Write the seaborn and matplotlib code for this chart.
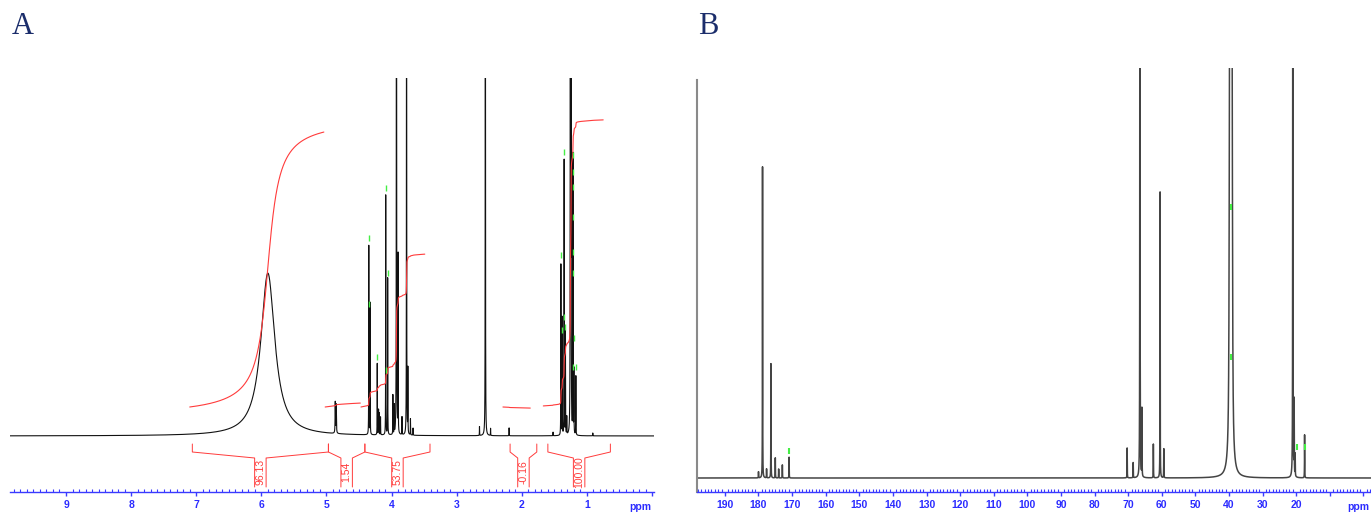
import numpy as np
import pandas as pd
import matplotlib
matplotlib.use("Agg")
import matplotlib.pyplot as plt
from matplotlib.ticker import MultipleLocator, FixedLocator
import seaborn as sns

sns.set_theme(style="white")
plt.rcParams["font.family"] = ["Liberation Sans", "DejaVu Sans"]

# ---- panel A: 1H spectrum (ppm, height relative to frame top, half width ppm)
h_shift = [5.90, 4.865, 4.850, 4.35, 4.33, 4.22, 4.20, 4.19, 4.17, 4.09, 4.06,
           3.98, 3.96, 3.925, 3.90, 3.84, 3.77, 3.75, 3.71, 3.67,
           2.65, 2.56, 2.48, 2.195, 1.52,
           1.40, 1.38, 1.35, 1.33, 1.31, 1.255, 1.245, 1.215, 1.20, 1.17, 0.91]
h_height = [0.455, 0.087, 0.080, 0.53, 0.37, 0.20, 0.07, 0.06, 0.05, 0.67, 0.44,
            0.11, 0.08, 4.0, 0.50, 0.05, 2.4, 0.18, 0.045, 0.02,
            0.025, 3.0, 0.02, 0.022, 0.01,
            0.48, 0.33, 0.77, 0.29, 0.05, 3.0, 3.0, 0.78, 0.18, 0.165, 0.008]
h_width = [0.13, 0.003, 0.003] + [0.0015] * 33

# integral curves (start ppm, end ppm, start level, end level)
int_start = [7.10, 5.02, 4.47, 2.29, 1.67]
int_end = [5.04, 4.48, 3.49, 1.87, 0.75]
int_low = [0.081, 0.081, 0.081, 0.081, 0.084]
int_high = [0.849, 0.092, 0.508, 0.078, 0.883]

# integration brackets and values
br_left = [7.06, 4.97, 4.41, 2.18, 1.60]
br_right = [4.97, 4.41, 3.41, 1.77, 0.64]
br_values = ["96.13", "1.54", "53.75", "-0.16", "100.00"]

# peak-pick marks
hpick_ppm = [4.35, 4.34, 4.22, 4.08, 4.05, 4.09, 1.40, 1.35, 1.35, 1.39, 1.33,
             1.21, 1.21, 1.21, 1.21, 1.21, 1.21, 1.20, 1.22, 1.17]
hpick_y = [0.553, 0.369, 0.22, 0.693, 0.455, 0.184, 0.506, 0.793, 0.332, 0.296, 0.304,
           0.785, 0.737, 0.696, 0.612, 0.514, 0.455, 0.274, 0.193, 0.193]

# ---- panel B: 13C spectrum
c_shift = [180.0, 178.8, 177.6, 176.3, 175.0, 174.0, 172.9, 170.9,
           70.3, 68.5, 66.5, 65.9, 62.5, 60.5, 59.4,
           39.9, 39.75, 39.6, 39.45, 39.3, 39.15, 39.0,
           21.0, 20.6, 20.3, 17.5]
c_height = [0.015, 0.759, 0.022, 0.28, 0.049, 0.022, 0.032, 0.051,
            0.073, 0.037, 3.0, 0.166, 0.083, 0.70, 0.071,
            0.25, 0.8, 1.6, 2.0, 1.6, 0.8, 0.25,
            3.0, 0.18, 0.054, 0.105]
c_width = [0.03] * 15 + [0.1] * 7 + [0.03] * 4
cpick_ppm = [39.4, 39.4, 19.8, 17.4, 170.9]
cpick_y = [0.661, 0.295, 0.076, 0.076, 0.066]

W, H = 1371, 513
BLUE = "#3a3aff"
RED = "#ff3b3b"
GREEN = "#44ee44"


def spectrum(grid, centres, heights, widths):
    y = np.zeros_like(grid)
    for c, h, w in zip(centres, heights, widths):
        y += h * w ** 2 / ((grid - c) ** 2 + w ** 2)
    return y


def style_axis(ax, major, minor, blank):
    for s in ["top", "right", "left"]:
        ax.spines[s].set_visible(False)
    ax.spines["bottom"].set_color(BLUE)
    ax.spines["bottom"].set_linewidth(1.0)
    ax.set_yticks([])
    ax.xaxis.set_major_locator(FixedLocator(major))
    ax.xaxis.set_minor_locator(MultipleLocator(minor))
    ax.set_xticklabels(["" if t in blank else f"{t:g}" for t in major])
    ax.tick_params(axis="x", which="major", direction="out", length=3, width=1,
                   color=BLUE, labelcolor="#2b2bff", labelsize=7.5, pad=2.5, bottom=True)
    ax.tick_params(axis="x", which="minor", direction="in", length=2, width=0.8,
                   color=BLUE, bottom=True)
    for lab in ax.get_xticklabels():
        lab.set_fontweight("bold")
    ax.set_xlabel("")
    ax.set_ylabel("")
    ax.set_facecolor("white")


fig = plt.figure(figsize=(W / 100, H / 100), dpi=100)
axA = fig.add_axes([10 / W, 1 - 492 / H, 644 / W, (492 - 78) / H])
axB = fig.add_axes([697 / W, 1 - 492 / H, 674 / W, (492 - 68) / H])

# ---- A
ppmA = np.linspace(9.86, -0.03, 40000)
specA = spectrum(ppmA, h_shift, h_height, h_width)
sns.lineplot(x=ppmA, y=specA, ax=axA, color="#111111", lw=0.8,
             sort=False, estimator=None)

for a, b, lo, hi in zip(int_start, int_end, int_low, int_high):
    m = (ppmA <= a) & (ppmA >= b)
    cum = np.cumsum(specA[m])
    cum = (cum - cum[0]) / (cum[-1] - cum[0])
    sns.lineplot(x=ppmA[m], y=lo + (hi - lo) * cum, ax=axA, color=RED, lw=0.8,
                 sort=False, estimator=None)

u = 1 / 358
for l, r, v in zip(br_left, br_right, br_values):
    c = (l + r) / 2
    g = 0.088
    y_top, y_knee, y_mid, y_bot = -8 * u, -16 * u, -22 * u, -51 * u
    axA.plot([l, l, c + g, c + g], [y_top, y_knee, y_mid, y_bot], color=RED, lw=0.7)
    axA.plot([r, r, c - g, c - g], [y_top, y_knee, y_mid, y_bot], color=RED, lw=0.7)
    axA.text(c, -36 * u, v, rotation=90, ha="center", va="center", color=RED,
             fontsize=7.5)

axA.plot(hpick_ppm, hpick_y, ls="none", marker="|", ms=4, mew=1, color=GREEN)
axA.set_xlim(9.86, -0.03)
axA.set_ylim(-56 * u, 1)
style_axis(axA, list(range(0, 10)), 0.1, {0})

# ---- B
ppmB = np.linspace(198.3, -2.26, 40000)
specB = spectrum(ppmB, c_shift, c_height, c_width)
sns.lineplot(x=ppmB, y=specB, ax=axB, color="#444444", lw=1.1,
             sort=False, estimator=None)
axB.plot(cpick_ppm, cpick_y, ls="none", marker="|", ms=4, mew=1.5, color=GREEN)
axB.set_xlim(198.3, -2.26)
v = 1 / 410
axB.set_ylim(-14 * v, 1)
style_axis(axB, list(range(0, 200, 10)), 1, {0, 10})
axB.spines["left"].set_visible(True)
axB.spines["left"].set_color("#8a8a8a")
axB.spines["left"].set_linewidth(1.5)
axB.spines["left"].set_bounds(-14 * v, (478 - 80) * v)

fig.text(640 / W, 1 - 507 / H, "ppm", ha="center", va="center", color="#2b2bff",
         fontsize=7.5, fontweight="bold")
fig.text(1347 / W, 1 - 507 / H, "ppm", ha="left", va="center", color="#2b2bff",
         fontsize=7.5, fontweight="bold")

fig.text(12 / W, 1 - 27 / H, "A", ha="left", va="center", color="#1b2d6b",
         fontsize=22, family="Liberation Serif")
fig.text(698 / W, 1 - 27 / H, "B", ha="left", va="center", color="#1b2d6b",
         fontsize=22, family="Liberation Serif")

fig.savefig("out.png", dpi=100, facecolor="white")
